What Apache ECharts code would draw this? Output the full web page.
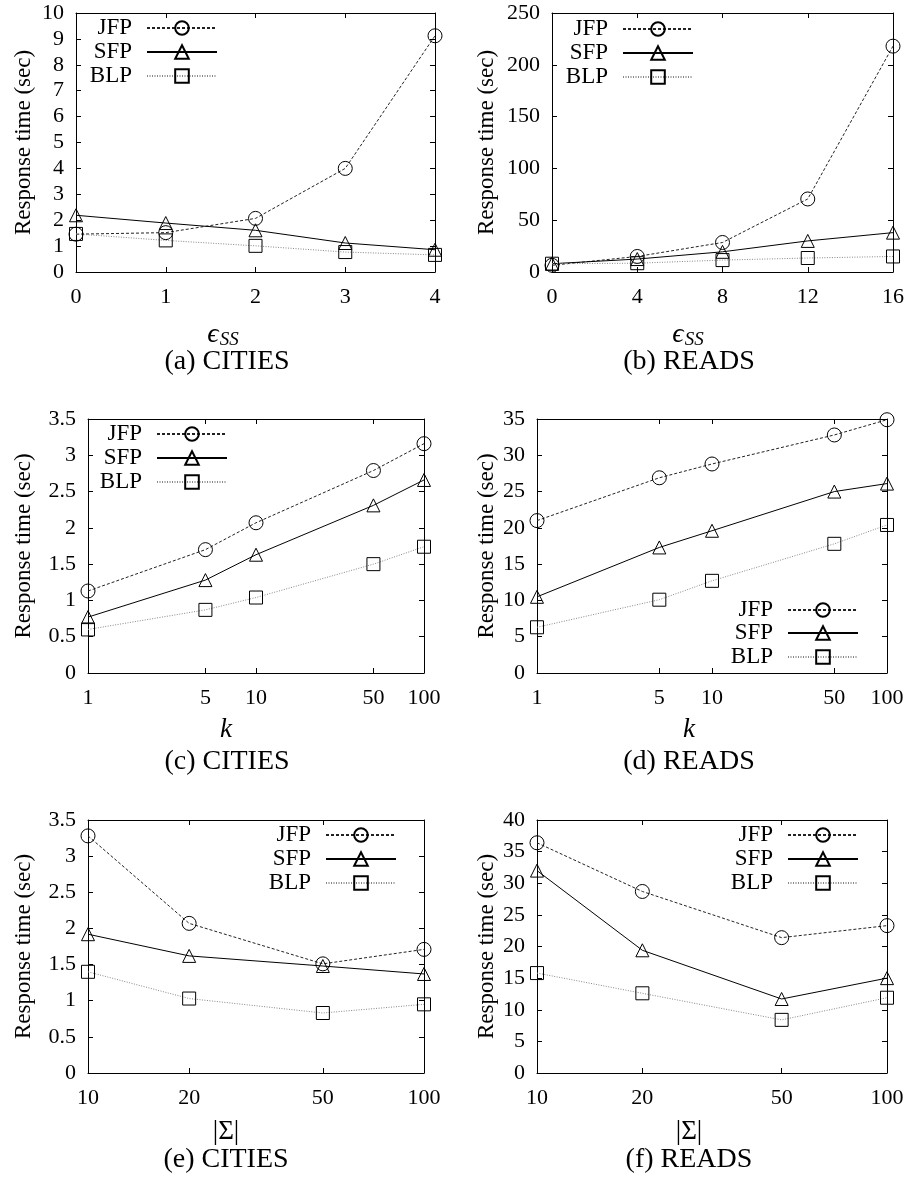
<!DOCTYPE html>
<html><head><meta charset="utf-8">
<script src="https://cdn.jsdelivr.net/npm/echarts@6/dist/echarts.min.js"></script>
<style>html,body{margin:0;padding:0;background:#fff}#c{width:907px;height:1180px}</style>
</head><body><div id="c"></div>
<script>
// ---- data ----
const seriesNames = ['JFP', 'SFP', 'BLP'];
const citiesEpsX = [0, 1, 2, 3, 4];
const readsEpsX = [0, 4, 8, 12, 16];
const kX = [1, 5, 10, 50, 100];
const sigmaX = [10, 20, 50, 100];

const aJFP = [1.46, 1.52, 2.07, 4.0, 9.12];
const aSFP = [2.19, 1.89, 1.61, 1.12, 0.86];
const aBLP = [1.47, 1.22, 1.01, 0.77, 0.66];

const bJFP = [6.5, 15, 28.5, 70.5, 218];
const bSFP = [8, 12.5, 19.5, 30, 38];
const bBLP = [8, 8.5, 11.5, 13.5, 15];

const cJFP = [1.13, 1.70, 2.07, 2.79, 3.16];
const cSFP = [0.77, 1.28, 1.63, 2.31, 2.66];
const cBLP = [0.60, 0.87, 1.04, 1.50, 1.74];

const dJFP = [21.0, 26.9, 28.8, 32.8, 34.9];
const dSFP = [10.5, 17.3, 19.6, 25.0, 26.1];
const dBLP = [6.3, 10.1, 12.7, 17.8, 20.4];

const eJFP = [3.28, 2.07, 1.51, 1.71];
const eSFP = [1.92, 1.62, 1.48, 1.37];
const eBLP = [1.40, 1.03, 0.83, 0.95];

const fJFP = [36.4, 28.7, 21.4, 23.3];
const fSFP = [32.0, 19.4, 11.7, 15.0];
const fBLP = [15.8, 12.6, 8.4, 11.9];

const kTicks = [1, 5, 10, 50, 100];
const sigmaTicks = [10, 20, 50, 100];
const yLabel = 'Response time (sec)';

// ---- layout ----
const FONT = '"Liberation Serif", "Times New Roman", serif';
const panels = [
  {x: citiesEpsX, ys: [aJFP, aSFP, aBLP], xt: 'value', xMin: 0, xMax: 4, xInt: 1, yMax: 10, yInt: 1,
   grid: {left: 76, top: 13, width: 359, height: 259}, nameGap: 41, legR: 218, legRows: [28, 52, 76],
   xname: {x: 223, y: 335, kind: 'eps'}, cap: {x: 227, y: 362, text: '(a) CITIES'}},
  {x: readsEpsX, ys: [bJFP, bSFP, bBLP], xt: 'value', xMin: 0, xMax: 16, xInt: 4, yMax: 250, yInt: 50,
   grid: {left: 552, top: 13, width: 342, height: 259}, nameGap: 54, legR: 694, legRows: [29, 53, 77],
   xname: {x: 688, y: 335, kind: 'eps'}, cap: {x: 689, y: 362, text: '(b) READS'}},
  {x: kX, ys: [cJFP, cSFP, cBLP], xt: 'log', xMin: 1, xMax: 100, ticks: kTicks, yMax: 3.5, yInt: 0.5,
   grid: {left: 88, top: 419, width: 336, height: 254}, nameGap: 53, legR: 228, legRows: [434, 458, 482],
   xname: {x: 226, y: 730, kind: 'k'}, cap: {x: 227, y: 762, text: '(c) CITIES'}},
  {x: kX, ys: [dJFP, dSFP, dBLP], xt: 'log', xMin: 1, xMax: 100, ticks: kTicks, yMax: 35, yInt: 5,
   grid: {left: 537, top: 419, width: 350, height: 254}, nameGap: 39, legR: 859, legRows: [610, 633, 657],
   xname: {x: 689, y: 730, kind: 'k'}, cap: {x: 689, y: 762, text: '(d) READS'}},
  {x: sigmaX, ys: [eJFP, eSFP, eBLP], xt: 'log', xMin: 10, xMax: 100, ticks: sigmaTicks, yMax: 3.5, yInt: 0.5,
   grid: {left: 88, top: 820, width: 336, height: 253}, nameGap: 53, legR: 397, legRows: [835, 859, 883],
   xname: {x: 226, y: 1132, kind: 'sigma'}, cap: {x: 226, y: 1160, text: '(e) CITIES'}},
  {x: sigmaX, ys: [fJFP, fSFP, fBLP], xt: 'log', xMin: 10, xMax: 100, ticks: sigmaTicks, yMax: 40, yInt: 5,
   grid: {left: 537, top: 820, width: 350, height: 253}, nameGap: 39, legR: 859, legRows: [835, 859, 883],
   xname: {x: 689, y: 1132, kind: 'sigma'}, cap: {x: 689, y: 1160, text: '(f) READS'}}
];

const styles = [
  {symbol: 'circle', size: 14, line: {color: '#222', width: 1, type: [3, 2]}},
  {symbol: 'triangle', size: 13, line: {color: '#000', width: 1, type: 'solid'}},
  {symbol: 'rect', size: 13, line: {color: '#888', width: 1, type: [1, 1.5]}}
];

const axisLine = {show: true, onZero: false, lineStyle: {color: '#000', width: 1}};
const tick = {show: true, inside: true, length: 5, lineStyle: {color: '#000', width: 1}};
const lbl = {color: '#000', fontFamily: FONT, fontSize: 22};

const grids = [], xAxes = [], yAxes = [], series = [], legends = [], graphics = [];
panels.forEach((p, i) => {
  grids.push(Object.assign({containLabel: false}, p.grid));
  const xBase = p.xt === 'log'
    ? {type: 'log', logBase: 10, min: p.xMin, max: p.xMax}
    : {type: 'value', min: p.xMin, max: p.xMax, interval: p.xInt};
  const xTickOpt = p.xt === 'log' ? Object.assign({customValues: p.ticks}, tick) : tick;
  xAxes.push(Object.assign({}, xBase, {gridIndex: i, position: 'bottom', axisLine, splitLine: {show: false},
    axisTick: xTickOpt,
    axisLabel: Object.assign({margin: 14}, lbl, p.xt === 'log' ? {customValues: p.ticks} : {})}));
  xAxes.push(Object.assign({}, xBase, {gridIndex: i, position: 'top', axisLine, splitLine: {show: false},
    axisTick: xTickOpt, axisLabel: Object.assign({show: false}, p.xt === 'log' ? {customValues: p.ticks} : {})}));
  yAxes.push({type: 'value', gridIndex: i, position: 'left', min: 0, max: p.yMax, interval: p.yInt,
    axisLine, axisTick: tick, splitLine: {show: false},
    axisLabel: Object.assign({margin: 12}, lbl),
    name: yLabel, nameLocation: 'middle', nameGap: p.nameGap, nameRotate: 90,
    nameTextStyle: {color: '#000', fontFamily: FONT, fontSize: 23}});
  yAxes.push({type: 'value', gridIndex: i, position: 'right', min: 0, max: p.yMax, interval: p.yInt,
    axisLine, axisTick: tick, splitLine: {show: false}, axisLabel: {show: false}});
  p.ys.forEach((vals, s) => {
    const st = styles[s];
    series.push({
      type: 'line', name: seriesNames[s], xAxisIndex: 2 * i, yAxisIndex: 2 * i,
      data: p.x.map((xv, j) => [xv, vals[j]]),
      symbol: st.symbol, symbolSize: st.size, showSymbol: true,
      lineStyle: st.line,
      itemStyle: {color: 'rgba(0,0,0,0)', borderColor: '#000', borderWidth: 1},
      emphasis: {disabled: true}, silent: true, animation: false
    });
    legends.push({
      data: [seriesNames[s]], orient: 'vertical', align: 'right',
      right: 907 - p.legR, top: p.legRows[s] - 12, padding: 0,
      itemWidth: 70, itemHeight: 17, selectedMode: false,
      textStyle: {color: '#000', fontFamily: FONT, fontSize: 23, lineHeight: 24, padding: [0, 10, 0, 0]}
    });
  });
  let t;
  if (p.xname.kind === 'eps') {
    t = {type: 'text', x: p.xname.x, y: p.xname.y, style: {
      text: '{e|ϵ}{s|SS}', textAlign: 'center', textVerticalAlign: 'middle',
      rich: {e: {fontFamily: FONT, fontStyle: 'italic', fontSize: 28, fill: '#000', verticalAlign: 'middle'},
             s: {fontFamily: FONT, fontStyle: 'italic', fontSize: 19, fill: '#000', verticalAlign: 'bottom', padding: [6, 0, 0, 1]}}}};
  } else if (p.xname.kind === 'k') {
    t = {type: 'text', x: p.xname.x, y: p.xname.y, style: {text: 'k', textAlign: 'center', textVerticalAlign: 'middle',
      font: 'italic 27px ' + FONT, fill: '#000'}};
  } else {
    t = {type: 'text', x: p.xname.x, y: p.xname.y, style: {text: '|Σ|', textAlign: 'center', textVerticalAlign: 'middle',
      font: '27px ' + FONT, fill: '#000'}};
  }
  graphics.push(t);
  graphics.push({type: 'text', x: p.cap.x, y: p.cap.y, style: {text: p.cap.text, textAlign: 'center',
    textVerticalAlign: 'middle', font: '28px ' + FONT, fill: '#000'}});
});

const chart = echarts.init(document.getElementById('c'), null, {renderer: 'canvas'});
chart.setOption({
  animation: false, backgroundColor: '#fff',
  grid: grids, xAxis: xAxes, yAxis: yAxes, series, legend: legends, graphic: graphics
});
</script></body></html>
